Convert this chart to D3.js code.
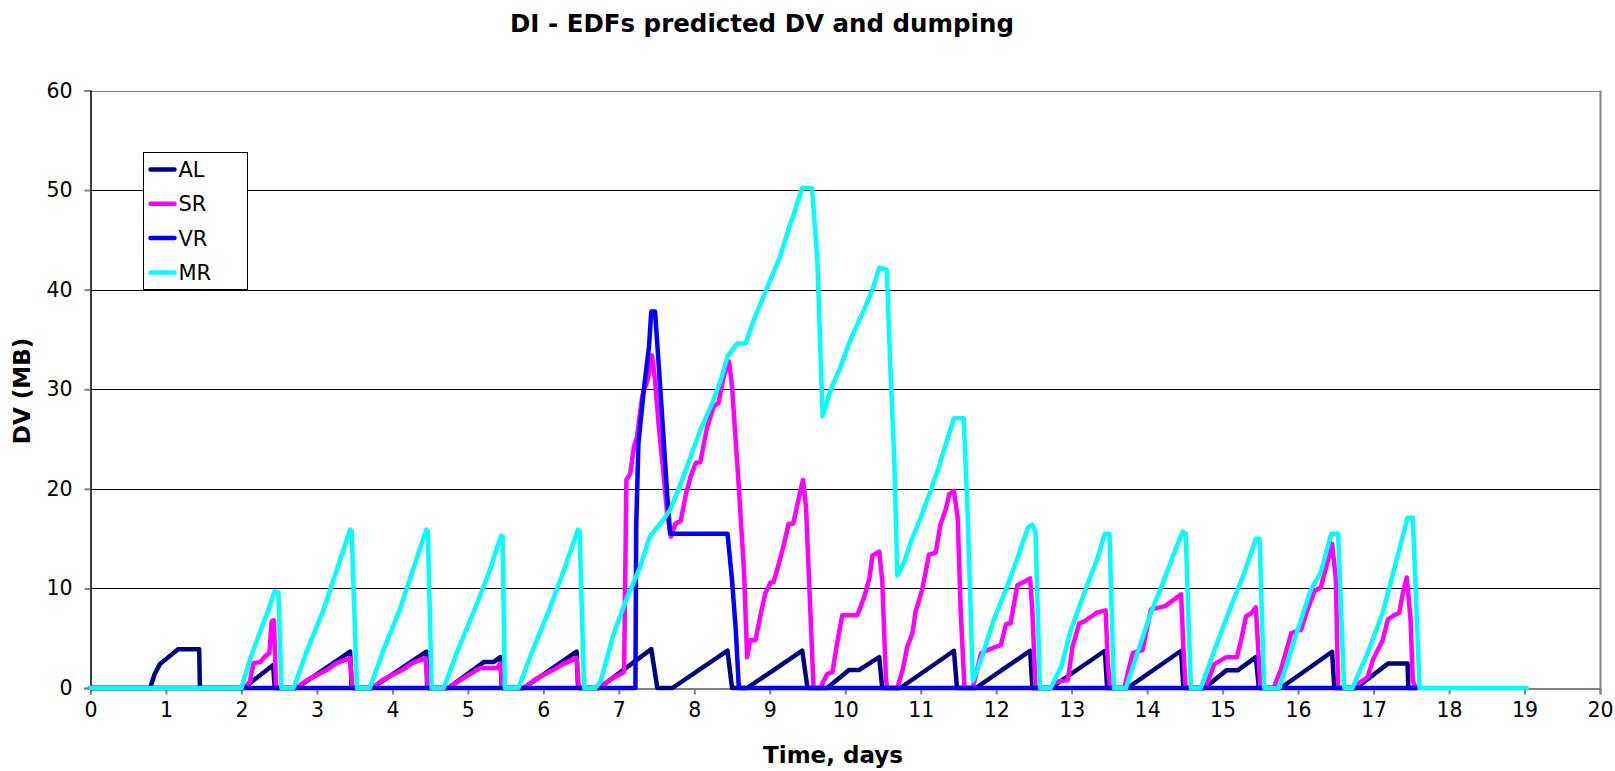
<!DOCTYPE html>
<html>
<head>
<meta charset="utf-8">
<script src="https://cdn.jsdelivr.net/npm/d3@7"></script>
<style>
  body { margin: 0; background: #fff; }
  text { font-family: "DejaVu Sans", Verdana, sans-serif; }
</style>
</head>
<body>
<div id="chart"></div>
<script>
const width = 1615;
const height = 771;

// axis ticks
const xTicks = d3.range(0, 21);
const yTicks = [0, 10, 20, 30, 40, 50, 60];

// series data: [day, DV in MB]
const alData = [
  [0, 0], [0.79, 0], [0.85, 1.4], [0.92, 2.4], [1.0, 2.9], [1.16, 3.9], [1.44, 3.9], [1.45, 0],
  [2.03, 0], [2.42, 2.3], [2.44, 0],
  [2.73, 0], [3.44, 3.66], [3.46, 0],
  [3.73, 0], [4.45, 3.66], [4.46, 0],
  [4.74, 0], [5.21, 2.6], [5.34, 2.6], [5.43, 3.1], [5.45, 0],
  [5.74, 0], [6.44, 3.66], [6.46, 0],
  [6.74, 0], [7.43, 3.9], [7.51, 0],
  [7.71, 0], [8.44, 3.75], [8.5, 0],
  [8.7, 0], [9.43, 3.75], [9.5, 0],
  [9.76, 0], [10.05, 1.8], [10.18, 1.8], [10.45, 3.1], [10.49, 0],
  [10.73, 0], [11.44, 3.74], [11.48, 0],
  [11.73, 0], [12.45, 3.74], [12.48, 0],
  [12.72, 0], [13.44, 3.74], [13.47, 0],
  [13.74, 0], [14.45, 3.74], [14.48, 0],
  [14.76, 0], [15.05, 1.77], [15.2, 1.77], [15.44, 3.1], [15.48, 0],
  [15.77, 0], [16.45, 3.64], [16.48, 0],
  [16.77, 0], [17.19, 2.45], [17.45, 2.45], [17.46, 0], [17.57, 0]
];

const srData = [
  [0, 0], [2.04, 0], [2.11, 0.6], [2.16, 2.5], [2.25, 2.6], [2.31, 3.15], [2.37, 3.5], [2.4, 6.7], [2.43, 6.8], [2.46, 0],
  [2.73, 0], [2.87, 0.8], [3.0, 1.3], [3.13, 1.8], [3.26, 2.5], [3.44, 3.0], [3.47, 0],
  [3.73, 0], [3.87, 0.8], [4.0, 1.3], [4.13, 1.8], [4.26, 2.5], [4.44, 3.0], [4.47, 0],
  [4.74, 0], [4.9, 0.8], [5.03, 1.4], [5.16, 2.0], [5.39, 2.0], [5.43, 2.5], [5.46, 0],
  [5.74, 0], [5.88, 0.8], [6.0, 1.3], [6.13, 1.8], [6.26, 2.4], [6.44, 3.0], [6.47, 0],
  [6.74, 0], [6.9, 0.9], [7.07, 1.6], [7.1, 20.9], [7.15, 21.5], [7.2, 24.2], [7.24, 25.2], [7.31, 29.3],
  [7.38, 30.9], [7.44, 33.4], [7.48, 30.9], [7.53, 26.2], [7.6, 20.9], [7.64, 17.5], [7.69, 15.2],
  [7.75, 16.5], [7.82, 16.8], [7.89, 19.5], [7.95, 21.2], [8.02, 22.6], [8.08, 22.7], [8.17, 26.2],
  [8.26, 28.3], [8.32, 28.6], [8.39, 31.3], [8.46, 32.8], [8.5, 30.3], [8.59, 20.2], [8.66, 11.5],
  [8.7, 3.1], [8.74, 4.8], [8.81, 4.8], [8.88, 7.4], [8.94, 9.5], [9.01, 10.6], [9.05, 10.6],
  [9.12, 12.5], [9.19, 14.5], [9.25, 16.5], [9.31, 16.5], [9.38, 18.9], [9.44, 20.9], [9.48, 18.2], [9.58, 0],
  [9.67, 0], [9.76, 1.4], [9.83, 1.6], [9.89, 4.4], [9.96, 7.3], [10.16, 7.3], [10.25, 9.1],
  [10.32, 11.0], [10.36, 13.3], [10.45, 13.7], [10.49, 10.8], [10.54, 0.7], [10.56, 0],
  [10.69, 0], [10.76, 1.8], [10.82, 4.1], [10.89, 5.5], [10.93, 7.6], [11.02, 9.9], [11.11, 13.4],
  [11.2, 13.6], [11.26, 16.4], [11.33, 17.9], [11.38, 19.5], [11.44, 19.8], [11.49, 17.1], [11.53, 7.6], [11.58, 0],
  [11.69, 0], [11.8, 3.5], [11.88, 3.8], [12.06, 4.3], [12.13, 6.4], [12.19, 6.5], [12.28, 10.3],
  [12.35, 10.6], [12.45, 11.0], [12.48, 7.6], [12.52, 0],
  [12.72, 0], [12.79, 0.6], [12.95, 0.8], [13.01, 4.1], [13.1, 6.5], [13.17, 6.7], [13.34, 7.6],
  [13.45, 7.8], [13.48, 2.4], [13.51, 0],
  [13.7, 0], [13.74, 1.4], [13.81, 3.5], [13.94, 3.8], [14.05, 7.9], [14.23, 8.2], [14.36, 8.9],
  [14.45, 9.4], [14.48, 4.1], [14.51, 0],
  [14.76, 0], [14.78, 0.2], [14.89, 2.4], [15.05, 3.1], [15.19, 3.1], [15.25, 5.0], [15.31, 7.2],
  [15.38, 7.5], [15.44, 8.1], [15.47, 4.1], [15.5, 0],
  [15.68, 0], [15.71, 0.7], [15.77, 1.8], [15.91, 5.5], [16.04, 5.85], [16.11, 7.55], [16.22, 9.76],
  [16.3, 10.1], [16.39, 12.65], [16.45, 14.5], [16.5, 11.0], [16.53, 0],
  [16.75, 0], [16.79, 0.4], [16.92, 1.1], [16.99, 2.8], [17.12, 4.8], [17.19, 6.9], [17.25, 7.2],
  [17.34, 7.55], [17.39, 9.6], [17.44, 11.1], [17.49, 6.9], [17.52, 0.7], [17.56, 0]
];

const vrData = [
  [0, 0], [7.22, 0], [7.23, 16.2], [7.26, 24.6], [7.33, 29.9], [7.4, 34.3], [7.43, 37.8], [7.48, 37.8],
  [7.53, 32.3], [7.6, 24.2], [7.64, 19.5], [7.68, 15.5], [8.44, 15.5], [8.5, 10.8], [8.55, 5.8],
  [8.59, 0], [17.57, 0]
];

const mrData = [
  [0, 0], [2.0, 0], [2.11, 2.8], [2.25, 5.7], [2.36, 7.9], [2.44, 9.7], [2.49, 9.6], [2.53, 0],
  [2.69, 0], [2.87, 3.8], [3.09, 7.9], [3.26, 11.8], [3.44, 15.9], [3.46, 15.7], [3.53, 0],
  [3.7, 0], [3.88, 3.8], [4.1, 7.9], [4.27, 11.8], [4.45, 15.9], [4.47, 15.7], [4.52, 0],
  [4.68, 0], [4.86, 3.7], [5.08, 7.7], [5.27, 11.4], [5.44, 15.3], [5.46, 15.2], [5.49, 0],
  [5.67, 0], [5.86, 3.8], [6.08, 7.9], [6.27, 11.8], [6.46, 15.9], [6.48, 15.7], [6.54, 0],
  [6.69, 0], [6.76, 0.7], [6.93, 5.4], [7.11, 9.1], [7.28, 12.1], [7.41, 15.2], [7.58, 16.8],
  [7.68, 17.9], [7.82, 20.5], [7.95, 23.2], [8.08, 25.9], [8.22, 28.3], [8.35, 30.9], [8.44, 33.3],
  [8.57, 34.6], [8.68, 34.6], [8.79, 37.0], [8.97, 40.3], [9.14, 43.4], [9.25, 46.1], [9.34, 48.1],
  [9.43, 50.2], [9.56, 50.2], [9.63, 43.0], [9.7, 27.3], [9.81, 30.0], [9.94, 32.3], [10.07, 35.0],
  [10.25, 38.0], [10.36, 40.0], [10.45, 42.2], [10.55, 42.0], [10.6, 31.7], [10.65, 23.0], [10.69, 11.3],
  [10.78, 12.65], [10.87, 14.7], [11.0, 17.1], [11.13, 19.8], [11.24, 22.2], [11.35, 24.9], [11.44, 27.1],
  [11.57, 27.1], [11.62, 17.8], [11.69, 0.75], [11.75, 1.8], [11.84, 3.8], [11.97, 6.9], [12.15, 10.3],
  [12.28, 13.0], [12.42, 16.1], [12.48, 16.4], [12.52, 15.7], [12.58, 0],
  [12.72, 0], [12.86, 2.1], [12.99, 5.85], [13.17, 9.6], [13.34, 13.0], [13.44, 15.5], [13.5, 15.5], [13.56, 0],
  [13.72, 0], [13.87, 3.5], [14.05, 7.55], [14.23, 10.95], [14.38, 14.0], [14.47, 15.7], [14.51, 15.5], [14.58, 0],
  [14.71, 0], [14.94, 4.8], [15.11, 8.2], [15.29, 11.6], [15.44, 15.0], [15.49, 15.0], [15.55, 0],
  [15.75, 0], [15.95, 4.8], [16.17, 9.9], [16.3, 11.6], [16.44, 15.5], [16.53, 15.5], [16.61, 0],
  [16.72, 0], [16.92, 3.5], [17.12, 7.55], [17.32, 13.3], [17.45, 17.1], [17.52, 17.1], [17.61, 0],
  [19.03, 0]
];

const seriesNames = ['AL', 'SR', 'VR', 'MR'];
const seriesColors = ['#000080', '#ff00ff', '#0000ff', '#00ffff'];
const seriesData = [alData, srData, vrData, mrData];

const plotLeft = 90.5;
const plotRight = 1600;
const plotTop = 90.5;
const plotBottom = 688;

const svg = d3.select('#chart')
  .append('svg')
  .attr('width', width)
  .attr('height', height);

const x = d3.scaleLinear().domain([0, 20]).range([plotLeft, plotRight]);
const y = d3.scaleLinear().domain([0, 60]).range([plotBottom, plotTop]);

// horizontal gridlines
svg.append('g')
  .selectAll('line')
  .data(yTicks.filter(d => d > 0))
  .enter()
  .append('line')
  .attr('x1', plotLeft)
  .attr('x2', plotRight)
  .attr('y1', d => Math.round(y(d)) + 0.5)
  .attr('y2', d => Math.round(y(d)) + 0.5)
  .style('stroke', d => d === 60 ? '#808080' : '#000')
  .style('stroke-width', 1);

// right border of plot area
svg.append('line')
  .attr('x1', plotRight + 0.5).attr('x2', plotRight + 0.5)
  .attr('y1', plotTop).attr('y2', plotBottom)
  .style('stroke', '#808080')
  .style('stroke-width', 2);

// axes
const xAxis = svg.append('g')
  .attr('transform', `translate(0,${Math.round(plotBottom) + 0.5})`)
  .call(d3.axisBottom(x).tickValues(xTicks).tickSize(6).tickPadding(8).tickFormat(d3.format('d')));

const yAxis = svg.append('g')
  .attr('transform', `translate(${Math.round(plotLeft) - 0.5},0)`)
  .call(d3.axisLeft(y).tickValues(yTicks).tickSize(6).tickPadding(12).tickFormat(d3.format('d')));

xAxis.select('.domain').style('stroke', '#808080').style('stroke-width', 2);
xAxis.selectAll('.tick line').style('stroke', '#808080').style('stroke-width', 2);
yAxis.select('.domain').style('stroke', '#000').style('stroke-width', 1.5);
yAxis.selectAll('.tick line').style('stroke', '#808080').style('stroke-width', 2);
svg.selectAll('.tick text')
  .style('font-family', '"DejaVu Sans", Verdana, sans-serif')
  .style('font-size', '20.5px')
  .style('fill', '#000');

// series lines
const line = d3.line()
  .x(d => x(d[0]))
  .y(d => y(d[1]));

svg.append('g')
  .selectAll('.series')
  .data(seriesData)
  .enter()
  .append('path')
  .attr('class', 'series')
  .attr('d', d => line(d))
  .style('fill', 'none')
  .style('stroke', (d, i) => seriesColors[i])
  .style('stroke-width', 4.5)
  .style('stroke-linejoin', 'round')
  .style('stroke-linecap', 'round');

// legend
const legend = svg.append('g').attr('transform', 'translate(143.5,152.5)');
legend.append('rect')
  .attr('width', 104)
  .attr('height', 137)
  .style('fill', '#fff')
  .style('stroke', '#000')
  .style('stroke-width', 1);

const legendRows = legend.selectAll('.legend-row')
  .data(seriesNames)
  .enter()
  .append('g')
  .attr('class', 'legend-row')
  .attr('transform', (d, i) => `translate(0,${17 + i * 34.3})`);

legendRows.append('line')
  .attr('x1', 7).attr('x2', 31)
  .attr('y1', 0).attr('y2', 0)
  .style('stroke', (d, i) => seriesColors[i])
  .style('stroke-width', 4.5)
  .style('stroke-linecap', 'round');

legendRows.append('text')
  .attr('x', 35)
  .attr('y', 0)
  .attr('dy', '0.36em')
  .style('font-size', '21px')
  .text(d => d);

// titles
svg.append('text')
  .attr('x', 762)
  .attr('y', 32)
  .attr('text-anchor', 'middle')
  .style('font-size', '24.5px')
  .style('font-weight', 'bold')
  .text('DI - EDFs predicted DV and dumping');

svg.append('text')
  .attr('x', 833)
  .attr('y', 763)
  .attr('text-anchor', 'middle')
  .style('font-size', '23px')
  .style('font-weight', 'bold')
  .text('Time, days');

svg.append('text')
  .attr('transform', 'translate(30,391) rotate(-90)')
  .attr('text-anchor', 'middle')
  .style('font-size', '23px')
  .style('font-weight', 'bold')
  .text('DV (MB)');
</script>
</body>
</html>
